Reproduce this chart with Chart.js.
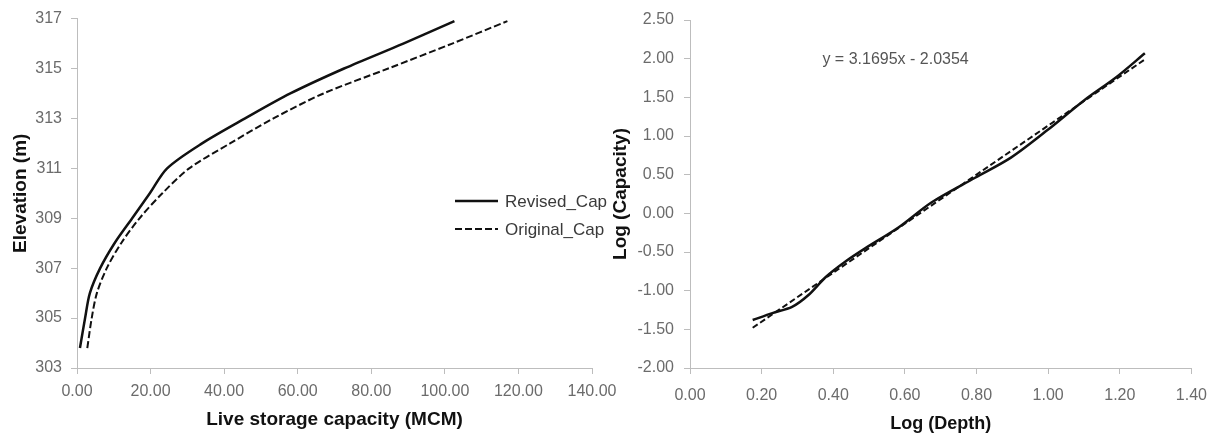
<!DOCTYPE html>
<html>
<head>
<meta charset="utf-8">
<script src="https://cdn.jsdelivr.net/npm/chart.js@4.4.1/dist/chart.umd.min.js"></script>
<style>
  html, body { margin: 0; padding: 0; background: #fff; width: 1219px; height: 441px; overflow: hidden; }
  #rightWrap { position: absolute; left: 600px; top: 0; }
  #leftWrap { position: absolute; left: 0; top: 0; }
</style>
</head>
<body>
<div id="rightWrap"><canvas id="logChart" width="619" height="441"></canvas></div>
<div id="leftWrap"><canvas id="capChart" width="640" height="441"></canvas></div>
<script>
// left chart: elevation vs live storage capacity
const elevation = [303.8, 305, 306, 307, 308, 309, 310, 311, 312, 313, 314, 315, 316, 316.9];
const revisedCap = [0.8, 2.2, 3.5, 6.3, 10.2, 15.0, 19.8, 24.5, 34.0, 45.7, 58.0, 72.6, 88.7, 102.6];
const originalCap = [2.8, 4.0, 5.4, 8.1, 12.0, 17.0, 23.2, 30.5, 41.6, 53.4, 67.0, 84.6, 102.0, 117.0];

// right chart: log depth vs log capacity
const logDepth = [0.175, 0.23, 0.285, 0.33, 0.38, 0.435, 0.49, 0.583, 0.674, 0.796, 0.896, 0.999, 1.10, 1.19, 1.27];
const logCapacity = [-1.38, -1.29, -1.21, -1.06, -0.82, -0.62, -0.45, -0.18, 0.14, 0.46, 0.72, 1.08, 1.46, 1.76, 2.07];
const trendDepth = [0.175, 1.27];
const trendCapacity = [-1.48, 1.99];
const trendLabel = 'y = 3.1695x - 2.0354';

const FONT = '"Liberation Sans", Arial, sans-serif';
const tickColor = '#6b6b6b';
const axisColor = '#bdbdbd';

function pts(xs, ys) {
  return xs.map((x, i) => ({ x: x, y: ys[i] }));
}

function axis(opts) {
  return {
    type: 'linear',
    min: opts.min,
    max: opts.max,
    border: { display: true, color: axisColor, width: 1 },
    grid: { display: true, drawOnChartArea: false, drawTicks: true, tickLength: 6, color: axisColor },
    ticks: {
      stepSize: opts.step,
      padding: opts.pad,
      color: tickColor,
      font: { family: FONT, size: 16 },
      callback: opts.fmt
    },
    title: {
      display: true,
      text: opts.title,
      color: '#111',
      font: { family: FONT, size: opts.titleSize, weight: 'bold' },
      padding: opts.titlePad
    },
    afterFit: opts.fit
  };
}

const legendInPlot = {
  id: 'legendInPlot',
  afterDraw(chart) {
    const ctx = chart.ctx;
    chart.data.datasets.forEach((ds, i) => {
      const y = 201 + i * 28;
      ctx.save();
      ctx.strokeStyle = ds.borderColor;
      ctx.lineWidth = ds.borderWidth;
      ctx.setLineDash(ds.borderDash || []);
      ctx.beginPath();
      ctx.moveTo(455, y);
      ctx.lineTo(498, y);
      ctx.stroke();
      ctx.setLineDash([]);
      ctx.fillStyle = '#3a3a3a';
      ctx.font = '17px ' + FONT;
      ctx.textBaseline = 'middle';
      ctx.fillText(ds.label, 505, y + 1);
      ctx.restore();
    });
  }
};

const equationText = {
  id: 'equationText',
  afterDraw(chart) {
    const ctx = chart.ctx;
    const x = chart.scales.x.getPixelForValue(0.574);
    const y = chart.scales.y.getPixelForValue(1.99);
    ctx.save();
    ctx.fillStyle = '#555';
    ctx.font = '16px ' + FONT;
    ctx.textAlign = 'center';
    ctx.textBaseline = 'middle';
    ctx.fillText(trendLabel, x, y);
    ctx.restore();
  }
};

new Chart(document.getElementById('capChart'), {
  type: 'scatter',
  data: {
    datasets: [
      {
        label: 'Revised_Cap',
        data: pts(revisedCap, elevation),
        showLine: true,
        borderColor: '#111',
        borderWidth: 2.5,
        pointRadius: 0,
        tension: 0.3
      },
      {
        label: 'Original_Cap',
        data: pts(originalCap, elevation),
        showLine: true,
        borderColor: '#111',
        borderWidth: 2,
        borderDash: [7, 3],
        pointRadius: 0,
        tension: 0.3
      }
    ]
  },
  options: {
    responsive: false,
    animation: false,
    layout: { padding: { top: 15, right: 48, bottom: 0, left: 0 } },
    plugins: { legend: { display: false }, tooltip: { enabled: false } },
    scales: {
      x: axis({ min: 0, max: 140, step: 20, pad: 8, fmt: v => v.toFixed(2),
        title: 'Live storage capacity (MCM)', titleSize: 19, titlePad: { top: 0, bottom: 10 },
        fit: s => { s.height = 73; } }),
      y: axis({ min: 303, max: 317, step: 2, pad: 9, fmt: v => String(v),
        title: 'Elevation (m)', titleSize: 19, titlePad: { top: 9, bottom: 0 },
        fit: s => { s.width = 77; } })
    }
  },
  plugins: [legendInPlot]
});

new Chart(document.getElementById('logChart'), {
  type: 'scatter',
  data: {
    datasets: [
      {
        label: 'Revised',
        data: pts(logDepth, logCapacity),
        showLine: true,
        borderColor: '#111',
        borderWidth: 2.5,
        pointRadius: 0,
        tension: 0.3
      },
      {
        label: 'Linear trend',
        data: pts(trendDepth, trendCapacity),
        showLine: true,
        borderColor: '#111',
        borderWidth: 2,
        borderDash: [6, 3],
        pointRadius: 0
      }
    ]
  },
  options: {
    responsive: false,
    animation: false,
    layout: { padding: { top: 20, right: 24, bottom: 0, left: 0 } },
    plugins: { legend: { display: false }, tooltip: { enabled: false } },
    scales: {
      x: axis({ min: 0, max: 1.4, step: 0.2, pad: 12, fmt: v => v.toFixed(2),
        title: 'Log (Depth)', titleSize: 18, titlePad: { top: 0, bottom: 6 },
        fit: s => { s.height = 73; } }),
      y: axis({ min: -2, max: 2.5, step: 0.5, pad: 10, fmt: v => v.toFixed(2),
        title: 'Log (Capacity)', titleSize: 19, titlePad: { top: 9, bottom: 0 },
        fit: s => { s.width = 90; } })
    }
  },
  plugins: [equationText]
});
</script>
</body>
</html>
